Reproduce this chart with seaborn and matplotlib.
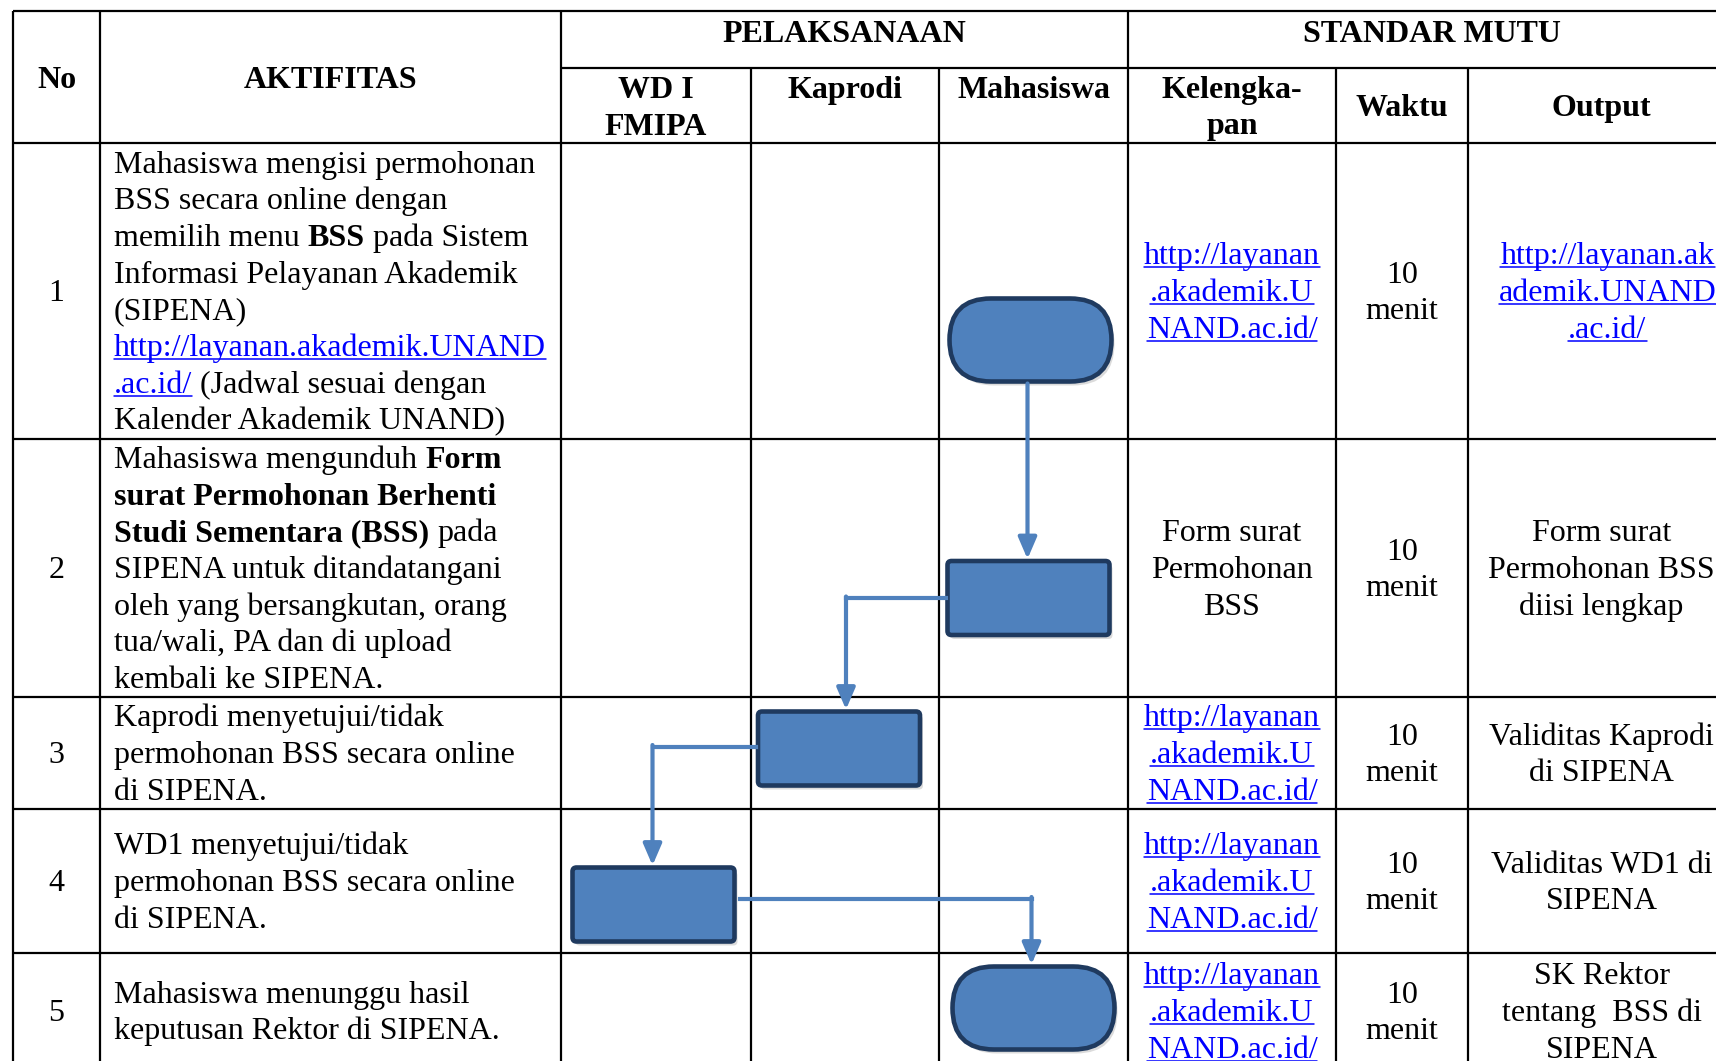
import matplotlib
matplotlib.use('Agg')
import matplotlib.pyplot as plt
import seaborn as sns
from matplotlib.patches import FancyBboxPatch

sns.set_theme(style='white')
plt.rcParams['font.family'] = ['Liberation Serif', 'DejaVu Serif']

# ---------------- isi tabel ----------------
header_utama = ['No', 'AKTIFITAS', 'PELAKSANAAN', 'STANDAR MUTU']
header_lane = ['WD I\nFMIPA', 'Kaprodi', 'Mahasiswa']
header_mutu = ['Kelengka-\npan', 'Waktu', 'Output']

nomor = ['1', '2', '3', '4', '5']

# tiap baris: daftar segmen (teks, gaya) ; n = biasa, b = tebal, u = tautan
aktifitas = [
    [[('Mahasiswa mengisi permohonan', 'n')],
     [('BSS secara online dengan', 'n')],
     [('memilih menu ', 'n'), ('BSS', 'b'), (' pada Sistem', 'n')],
     [('Informasi Pelayanan Akademik', 'n')],
     [('(SIPENA)', 'n')],
     [('http://layanan.akademik.UNAND', 'u')],
     [('.ac.id/', 'u'), (' (Jadwal sesuai dengan', 'n')],
     [('Kalender Akademik UNAND)', 'n')]],
    [[('Mahasiswa mengunduh ', 'n'), ('Form', 'b')],
     [('surat Permohonan Berhenti', 'b')],
     [('Studi Sementara (BSS)', 'b'), (' pada', 'n')],
     [('SIPENA untuk ditandatangani', 'n')],
     [('oleh yang bersangkutan, orang', 'n')],
     [('tua/wali, PA dan di upload', 'n')],
     [('kembali ke SIPENA.', 'n')]],
    [[('Kaprodi menyetujui/tidak', 'n')],
     [('permohonan BSS secara online', 'n')],
     [('di SIPENA.', 'n')]],
    [[('WD1 menyetujui/tidak', 'n')],
     [('permohonan BSS secara online', 'n')],
     [('di SIPENA.', 'n')]],
    [[('Mahasiswa menunggu hasil', 'n')],
     [('keputusan Rektor di SIPENA.', 'n')]],
]

url_pendek = ['http://layanan', '.akademik.U', 'NAND.ac.id/']
kelengkapan = [url_pendek, ['Form surat', 'Permohonan', 'BSS'], url_pendek, url_pendek, url_pendek]
kelengkapan_link = [True, False, True, True, True]

waktu = ['10 menit'] * 5

output = [['http://layanan.ak', 'ademik.UNAND', '.ac.id/'],
          ['Form surat', 'Permohonan BSS', 'diisi lengkap'],
          ['Validitas Kaprodi', 'di SIPENA'],
          ['Validitas WD1 di', 'SIPENA'],
          ['SK Rektor', 'tentang  BSS di', 'SIPENA']]
output_link = [True, False, False, False, False]

# alur: lane pelaksana (0 = WD I, 1 = Kaprodi, 2 = Mahasiswa) dan bentuk simbol
alur_lane = [2, 2, 1, 0, 2]
alur_bentuk = ['terminator', 'proses', 'proses', 'proses', 'terminator']

# ---------------- tata letak (piksel) ----------------
kol_x = [13, 100, 561, 751, 939, 1128, 1336, 1468, 1735]
baris_y = [143, 439, 697, 809, 953, 1069]
top_y, sub_y = 11, 68
FS = 23
LS = 36.7
BASE = 10
geser = [(-3, 49), (-5, 30), (-6, -4.5), (-2.5, 23.5), (0, -3)]
# geseran ujung konektor: (dx kolom tujuan, dy titik keluar)
geser_panah = [(-1, 0), (7, 0), (-1, -2), (-2, -6)]
ukuran = {'terminator': (162, 83), 'proses': (162, 74)}
biru = '#4F81BD'
tepi = '#1F3A5F'
link = '#0000FF'

fig = plt.figure(figsize=(17.16, 10.61), dpi=100)
ax = fig.add_axes([0, 0, 1, 1])
ax.set_xlim(0, 1716)
ax.set_ylim(1061, 0)
ax.axis('off')
r = fig.canvas.get_renderer()


def lebar(s, bold=False):
    w = []
    for t in ('|' + s + '|', '||'):
        tt = ax.text(0, 0, t, fontsize=FS, fontweight='bold' if bold else 'normal')
        w.append(tt.get_window_extent(renderer=r).width)
        tt.remove()
    return w[0] - w[1]


def tulis_kiri(x, yc, segs):
    yb = yc + BASE
    for s, g in segs:
        lead = len(s) - len(s.lstrip())
        x0 = x + lebar(' ' * lead) if lead else x
        txt = s.strip()
        ax.text(x0, yb, txt, fontsize=FS, ha='left', va='baseline',
                fontweight='bold' if g == 'b' else 'normal',
                color=link if g == 'u' else 'black')
        if g == 'u':
            ax.plot([x0, x0 + lebar(txt)], [yb + 3, yb + 3], color=link, lw=1.1)
        x += lebar(s, g == 'b')


def tulis_tengah(xc, yc, teks, is_link=False, bold=False):
    yb = yc + BASE
    ax.text(xc, yb, teks, fontsize=FS, ha='center', va='baseline',
            fontweight='bold' if bold else 'normal',
            color=link if is_link else 'black')
    if is_link:
        w = lebar(teks)
        ax.plot([xc - w / 2, xc + w / 2], [yb + 3, yb + 3], color=link, lw=1.1)


def blok_tengah(xc, yc, lines, is_link=False, bold=False):
    n = len(lines)
    for i, s in enumerate(lines):
        tulis_tengah(xc, yc + (i - (n - 1) / 2) * LS, s, is_link, bold)


# ---------------- garis tabel ----------------
lw_t = 1.6
ax.hlines(top_y, kol_x[0], kol_x[-1], color='black', lw=lw_t)
ax.hlines(sub_y, kol_x[2], kol_x[-1], color='black', lw=lw_t)
for y in baris_y:
    ax.hlines(y, kol_x[0], kol_x[-1], color='black', lw=lw_t)
for i, x in enumerate(kol_x):
    y0 = sub_y if i in (3, 4, 6, 7) else top_y
    ax.vlines(x, y0, baris_y[-1], color='black', lw=lw_t)

# ---------------- header ----------------
tulis_tengah((kol_x[0] + kol_x[1]) / 2, 78, header_utama[0], bold=True)
tulis_tengah((kol_x[1] + kol_x[2]) / 2, 78, header_utama[1], bold=True)
tulis_tengah((kol_x[2] + kol_x[5]) / 2, 32, header_utama[2], bold=True)
tulis_tengah((kol_x[5] + kol_x[8]) / 2, 32, header_utama[3], bold=True)
for i, h in enumerate(header_lane):
    lines = h.split('\n')
    xc = (kol_x[2 + i] + kol_x[3 + i]) / 2
    for j, s in enumerate(lines):
        tulis_tengah(xc, 88 + j * LS, s, bold=True)
for i, h in enumerate(header_mutu):
    xc = (kol_x[5 + i] + kol_x[6 + i]) / 2
    blok_tengah(xc, 106, h.split('\n'), bold=True)

# ---------------- isi baris ----------------
pusat_baris = [(baris_y[i] + baris_y[i + 1]) / 2 for i in range(5)]
for i in range(5):
    yc = pusat_baris[i]
    tulis_tengah((kol_x[0] + kol_x[1]) / 2, yc, nomor[i])
    n = len(aktifitas[i])
    for j, segs in enumerate(aktifitas[i]):
        tulis_kiri(kol_x[1] + 14, yc + (j - (n - 1) / 2) * LS, segs)
    blok_tengah((kol_x[5] + kol_x[6]) / 2, yc, kelengkapan[i], kelengkapan_link[i])
    blok_tengah((kol_x[6] + kol_x[7]) / 2, yc, waktu[i].split(' '))
    blok_tengah((kol_x[7] + kol_x[8]) / 2 + (6 if output_link[i] else 0), yc,
                output[i], output_link[i])

# ---------------- simbol alur ----------------
pusat = []
for i in range(5):
    lane = alur_lane[i]
    cx = (kol_x[2 + lane] + kol_x[3 + lane]) / 2 + geser[i][0]
    cy = pusat_baris[i] + geser[i][1]
    w, h = ukuran[alur_bentuk[i]]
    rs = h / 2 if alur_bentuk[i] == 'terminator' else 4
    bayangan = FancyBboxPatch((cx - w / 2 + 3, cy - h / 2 + 4), w, h,
                              boxstyle=f'round,pad=0,rounding_size={rs}',
                              fc='#9a9a9a', ec='none', alpha=0.35, zorder=3)
    ax.add_patch(bayangan)
    kotak = FancyBboxPatch((cx - w / 2, cy - h / 2), w, h,
                           boxstyle=f'round,pad=0,rounding_size={rs}',
                           fc=biru, ec=tepi, lw=3.3, zorder=4)
    ax.add_patch(kotak)
    pusat.append((cx, cy, w, h))

panah = dict(arrowstyle='-|>,head_length=0.65,head_width=0.28', color=biru,
             lw=3.0, shrinkA=0, shrinkB=0, mutation_scale=20)
for i in range(4):
    cx0, cy0, w0, h0 = pusat[i]
    cx1, cy1, w1, h1 = pusat[i + 1]
    dx, dy = geser_panah[i]
    xt = cx1 + dx
    atas = cy1 - h1 / 2 - 2
    if alur_lane[i] == alur_lane[i + 1]:
        ax.annotate('', xy=(xt, atas), xytext=(xt, cy0 + h0 / 2 + 2),
                    arrowprops=panah, zorder=5)
    else:
        kiri = alur_lane[i + 1] < alur_lane[i]
        ys = cy0 + dy
        xs = cx0 - w0 / 2 - 2 if kiri else cx0 + w0 / 2 + 5
        ax.plot([xs, xt], [ys, ys], color=biru, lw=3.0,
                solid_capstyle='projecting', zorder=5)
        ax.annotate('', xy=(xt, atas), xytext=(xt, ys - 1.5),
                    arrowprops=panah, zorder=5)

fig.savefig('out.png', dpi=100)
